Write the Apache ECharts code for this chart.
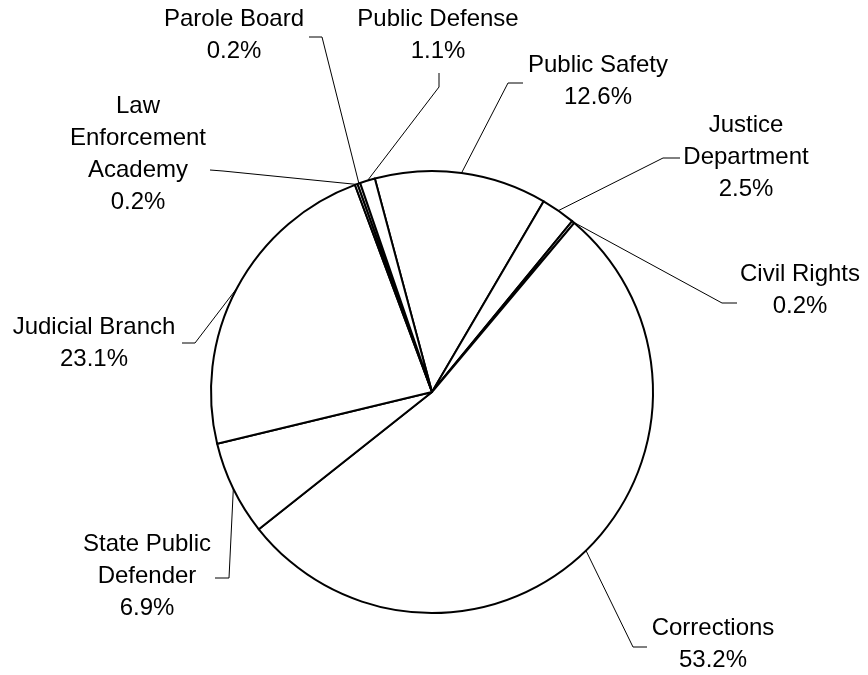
<!DOCTYPE html>
<html>
<head>
<meta charset="utf-8">
<script src="https://cdn.jsdelivr.net/npm/echarts@6/dist/echarts.min.js"></script>
<style>
html,body{margin:0;padding:0;background:#fff;}
#chart{width:868px;height:675px;}
</style>
</head>
<body>
<div id="chart"></div>
<script>
// Categories in clockwise order (starting from the Public Safety slice)
const categories = ['Public Safety', 'Justice\nDepartment', 'Civil Rights', 'Corrections',
  'State Public\nDefender', 'Judicial Branch', 'Law\nEnforcement\nAcademy', 'Parole Board', 'Public Defense'];
// Share of budget (%)
const shares = [12.6, 2.5, 0.2, 53.2, 6.9, 23.1, 0.2, 0.2, 1.1];

// Label placement (layout only): label block centre and leader-line bend/end points
const labelCentres = [[598, 81], [746, 157], [800, 290], [713, 644], [147, 576], [94, 343], [138, 154], [234, 35], [438, 35]];
const leaderBends = [[[508, 83], [523, 83]], [[663, 158], [680, 158]], [[722, 303], [737, 303]], [[633, 647], [647, 647]],
  [[229, 578], [215, 578]], [[195, 343], [182, 343]], [[223, 171], [210, 170]], [[322, 37], [309, 37]], [[439, 87], [439, 73]]];

const chart = echarts.init(document.getElementById('chart'), null, {renderer: 'canvas'});
const FONT = "'Liberation Sans', Arial, sans-serif";

chart.setOption({
  animation: false,
  backgroundColor: '#ffffff',
  series: [{
    type: 'pie',
    center: [432, 392],
    radius: [0, 221],
    startAngle: 105,
    clockwise: true,
    avoidLabelOverlap: false,
    emphasis: {disabled: true},
    itemStyle: {color: '#ffffff', borderColor: '#000000', borderWidth: 2},
    label: {
      show: true,
      position: 'outside',
      color: '#000000',
      fontFamily: FONT,
      fontSize: 24,
      lineHeight: 32,
      align: 'center',
      formatter: p => p.name + '\n' + p.value.toFixed(1) + '%'
    },
    labelLine: {show: true, length: 10, length2: 10, lineStyle: {color: '#000000', width: 1}},
    labelLayout: function (params) {
      const i = params.dataIndex;
      const c = labelCentres[i];
      const pts = params.labelLinePoints;
      const out = {x: c[0], y: c[1], align: 'center', verticalAlign: 'middle'};
      if (pts && pts.length) {
        out.labelLinePoints = [pts[0], leaderBends[i][0], leaderBends[i][1]];
      }
      return out;
    },
    data: categories.map((name, i) => ({name: name, value: shares[i]}))
  }]
});
</script>
</body>
</html>
